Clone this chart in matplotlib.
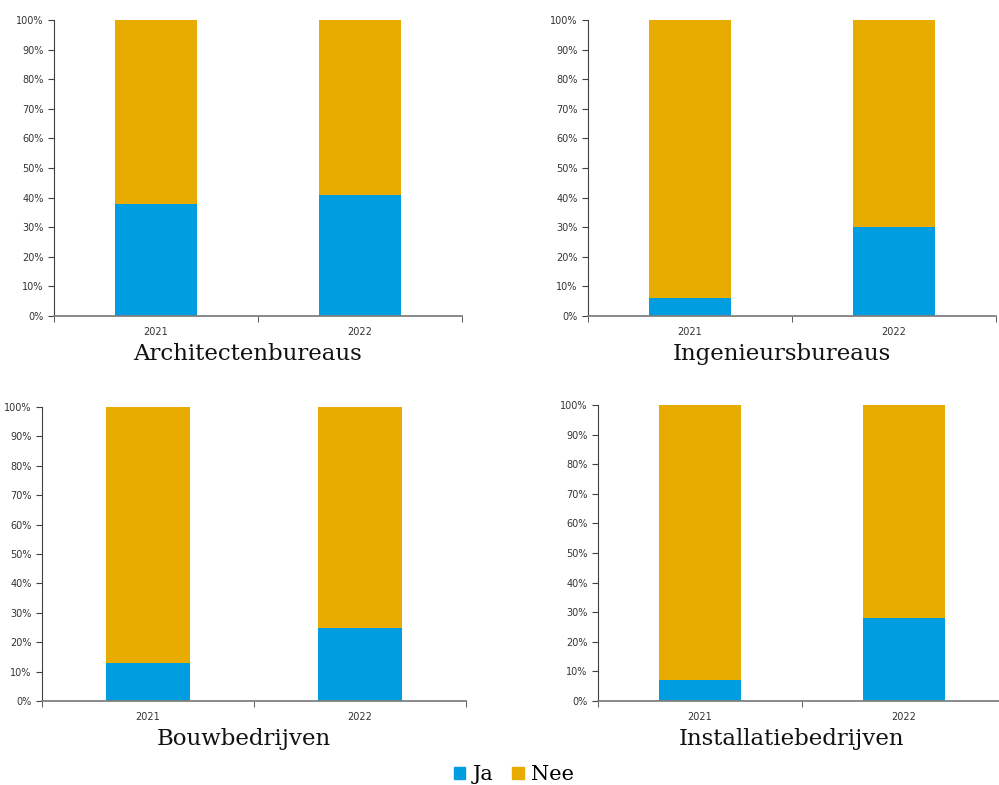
import matplotlib.pyplot as plt
from matplotlib.ticker import FixedLocator, PercentFormatter, NullFormatter
from matplotlib.patches import Patch

# Data: share "Ja" per sector (percent), "Nee" is the rest
years = ['2021', '2022']
sectors = ['Architectenbureaus', 'Ingenieursbureaus', 'Bouwbedrijven', 'Installatiebedrijven']
ja_arch = [38, 41]
ja_ing = [6, 30]
ja_bouw = [13, 25]
ja_inst = [7, 28]
ja_values = [ja_arch, ja_ing, ja_bouw, ja_inst]

col_ja = '#009EE0'
col_nee = '#E8AC00'
W, H = 999, 785

# axes boxes in pixels: left, right, top, bottom
boxes = [(54, 462, 20, 316), (588, 996, 20, 316), (42, 466, 407, 701), (598, 1006, 405, 701)]

fig = plt.figure(figsize=(W / 100, H / 100), dpi=100)
serif = ['DejaVu Serif']

for sector, ja, (l, r, t, b) in zip(sectors, ja_values, boxes):
    ax = fig.add_axes([l / W, (H - b) / H, (r - l) / W, (b - t) / H])
    nee = [100 - v for v in ja]
    x = range(len(years))
    ax.bar(x, ja, 0.4, color=col_ja)
    ax.bar(x, nee, 0.4, bottom=ja, color=col_nee)
    ax.set_xlim(-0.5, 1.5)
    ax.set_ylim(0, 100)
    ax.set_yticks(range(0, 101, 10))
    ax.yaxis.set_major_formatter(PercentFormatter(decimals=0))
    ax.set_xticks(list(x))
    ax.set_xticklabels(years)
    ax.xaxis.set_minor_locator(FixedLocator([-0.5, 0.5, 1.5]))
    ax.xaxis.set_minor_formatter(NullFormatter())
    ax.tick_params(axis='x', which='major', length=0, pad=8, labelsize=7, labelcolor='#333333')
    ax.tick_params(axis='x', which='minor', length=4, color='#404040')
    ax.tick_params(axis='y', length=4, labelsize=7, labelcolor='#333333', color='#404040')
    for s in ['top', 'right']:
        ax.spines[s].set_visible(False)
    ax.spines['left'].set_color('#404040')
    ax.spines['bottom'].set_color('#808080')
    ax.spines['bottom'].set_linewidth(1.3)
    ax.text(0.475, -0.13, sector, transform=ax.transAxes, ha='center', va='center',
            fontsize=16.5, family=serif, color='#111111')

handles = [Patch(color=col_ja, label='Ja'), Patch(color=col_nee, label='Nee')]
fig.legend(handles=handles, loc='center', bbox_to_anchor=(514 / W, (H - 775) / H), ncol=2,
           frameon=False, prop={'family': serif, 'size': 15}, handlelength=0.55, handleheight=0.55,
           handletextpad=0.35, columnspacing=0.9)

fig.savefig('out.png', dpi=100)
